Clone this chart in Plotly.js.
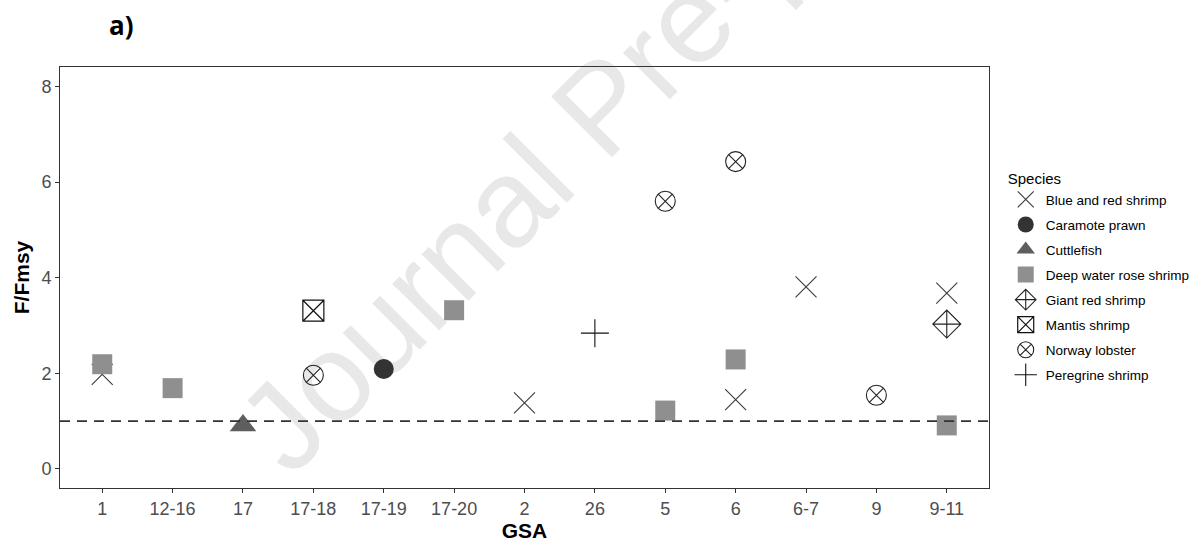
<!DOCTYPE html>
<html>
<head>
<meta charset="utf-8">
<script src="https://cdn.plot.ly/plotly-3.0.1.min.js"></script>
<style>html,body{margin:0;padding:0;background:#fff;}#chart{width:1197px;height:542px;}</style>
</head>
<body>
<div id="chart"></div>
<script>
// ---- data ----
const gsaCategories = ['1','12-16','17','17-18','17-19','17-20','2','26','5','6','6-7','9','9-11'];
const yTicks = [0, 2, 4, 6, 8];
const fmsyThreshold = 1;

const blueRedX = ['1','2','6','6-7','9-11'];
const blueRedY = [1.98, 1.38, 1.45, 3.81, 3.68];

const caramoteX = ['17-19'];
const caramoteY = [2.09];

const cuttlefishX = ['17'];
const cuttlefishY = [0.91];

const deepRoseX = ['1','12-16','17-20','5','6','9-11'];
const deepRoseY = [2.19, 1.69, 3.32, 1.22, 2.29, 0.91];

const giantRedX = ['9-11'];
const giantRedY = [3.03];

const mantisX = ['17-18'];
const mantisY = [3.31];

const norwayX = ['17-18','5','6','9'];
const norwayY = [1.96, 5.60, 6.43, 1.54];

const peregrineX = ['26'];
const peregrineY = [2.84];

// ---- traces ----
function tr(name, x, y, marker, rank) {
  return {type:'scatter', mode:'markers', name:name, x:x, y:y, marker:marker,
          legendrank:rank, legendgroup:name, hoverinfo:'x+y+name'};
}
const traces = [
  tr('Blue and red shrimp', blueRedX, blueRedY,
     {symbol:'x-thin-open', size:21, color:'#3a3a3a', line:{color:'#3a3a3a', width:1.1}}, 1),
  tr('Peregrine shrimp', peregrineX, peregrineY,
     {symbol:'cross-thin-open', size:20, color:'#111', line:{color:'#111', width:1.1}}, 8),
  tr('Caramote prawn', caramoteX, caramoteY,
     {symbol:'circle', size:20, color:'#333333', line:{width:0}}, 2),
  tr('Cuttlefish', cuttlefishX, cuttlefishY,
     {symbol:'triangle-up', size:23, color:'#5e5e5e', line:{width:0}}, 3),
  tr('Deep water rose shrimp', deepRoseX, deepRoseY,
     {symbol:'square', size:20, color:'#8f8f8f', line:{width:0}}, 4),
  tr('Giant red shrimp', giantRedX, giantRedY,
     {symbol:'diamond-cross-open', size:21.5, color:'#222', line:{color:'#222', width:1.1}}, 5),
  tr('Mantis shrimp', mantisX, mantisY,
     {symbol:'square-x-open', size:21, color:'#111', line:{color:'#111', width:1.2}}, 6),
  tr('Norway lobster', norwayX, norwayY,
     {symbol:'circle-x-open', size:20, color:'#222', line:{color:'#222', width:1.1}}, 7)
];

const tickFont = {family:'Arial, Liberation Sans, sans-serif', size:18, color:'#4d4d4d'};
const titleFont = {family:'Arial, Liberation Sans, sans-serif', size:21, color:'#000', weight:'bold'};

const layout = {
  width:1197, height:542,
  margin:{l:60, r:208, t:67, b:54, autoexpand:false},
  paper_bgcolor:'#ffffff',
  plot_bgcolor:'rgba(0,0,0,0)',
  font:{family:'Arial, Liberation Sans, sans-serif'},
  showlegend:true,
  xaxis:{
    type:'category', categoryorder:'array', categoryarray:gsaCategories,
    range:[-0.6, 12.6], showgrid:false, zeroline:false,
    showline:true, mirror:true, linecolor:'#333333', linewidth:1,
    ticks:'outside', ticklen:4, tickcolor:'#333333', tickwidth:1,
    tickfont:tickFont,
    title:{text:'<b>GSA</b>', font:titleFont, standoff:0}
  },
  yaxis:{
    range:[-0.40, 8.41], tickvals:yTicks, showgrid:false, zeroline:false,
    showline:true, mirror:true, linecolor:'#333333', linewidth:1,
    ticks:'outside', ticklen:4, tickcolor:'#333333', tickwidth:1,
    tickfont:tickFont,
    title:{text:'<b>F/Fmsy</b>', font:titleFont, standoff:6}
  },
  legend:{
    x:1.018, y:0.768, xanchor:'left', yanchor:'top',
    title:{text:'Species', font:{size:15, color:'#000'}},
    font:{size:13.5, color:'#000'},
    tracegroupgap:4.5, traceorder:'grouped',
    bgcolor:'rgba(0,0,0,0)', borderwidth:0
  },
  shapes:[
    {type:'line', xref:'paper', x0:0, x1:1, yref:'y', y0:fmsyThreshold, y1:fmsyThreshold,
     line:{color:'#333333', width:1.8, dash:'10px,7px'}, layer:'above'},
    {type:'rect', xref:'paper', yref:'paper', x0:0.5633, x1:0.5833, y0:0.9157, y1:0.9357,
     line:{width:0}, fillcolor:'rgba(0,0,0,0)', layer:'below',
     label:{text:'Journal Pre-proof', textangle:-45, textposition:'middle center',
            font:{family:'Arial, Liberation Sans, sans-serif', size:125, color:'#e8e8e8'}}}
  ],
  annotations:[
    {text:'<b>a)</b>', xref:'paper', yref:'paper', x:0.0667, y:1.0998,
     xanchor:'center', yanchor:'middle', showarrow:false,
     font:{family:'Open Sans, sans-serif', size:26, color:'#000'}}
  ]
};

Plotly.newPlot('chart', traces, layout, {displayModeBar:false, staticPlot:true});
</script>
</body>
</html>
